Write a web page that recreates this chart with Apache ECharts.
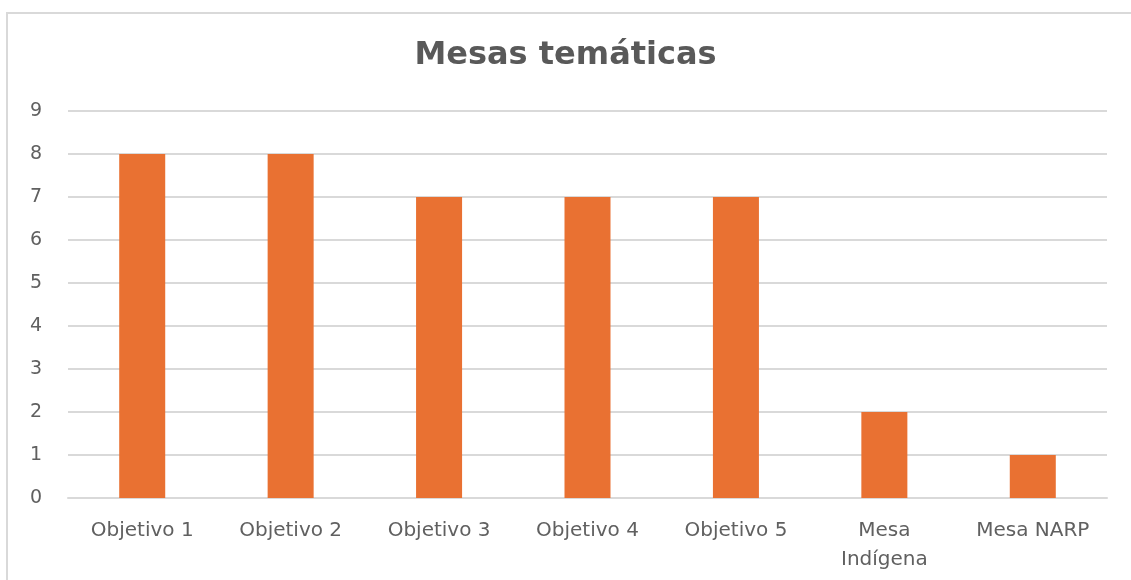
<!DOCTYPE html>
<html>
<head>
<meta charset="utf-8">
<script src="https://cdn.jsdelivr.net/npm/echarts@6/dist/echarts.min.js"></script>
<style>
  html, body { margin: 0; padding: 0; background: #fff; }
  #chart { width: 1131px; height: 580px; }
</style>
</head>
<body>
<div id="chart"></div>
<script>
// datos de las mesas
var categories = ["Objetivo 1", "Objetivo 2", "Objetivo 3", "Objetivo 4", "Objetivo 5", "Mesa\nIndígena", "Mesa NARP"];
var values = [8, 8, 7, 7, 7, 2, 1];
var titleText = "Mesas temáticas";

var myChart = echarts.init(document.getElementById("chart"));
var font = "'DejaVu Sans', sans-serif";

var option = {
    backgroundColor: "#fff",
    animation: false,
    title: {
        text: titleText,
        left: "center",
        top: 35,
        textStyle: {
            color: "#595959",
            fontSize: 32,
            fontWeight: "bold",
            fontFamily: font
        }
    },
    // marco del grafico
    graphic: [{
        type: "polyline",
        shape: { points: [[7, 600], [7, 13], [1135, 13]] },
        style: { stroke: "#D9D9D9", lineWidth: 2, fill: null }
    }],
    grid: {
        left: 68,
        right: 24,
        top: 111,
        bottom: 82
    },
    xAxis: {
        type: "category",
        data: categories,
        axisTick: { show: false },
        axisLine: { lineStyle: { color: "#D9D9D9", width: 2 } },
        axisLabel: {
            color: "#606060",
            fontSize: 20,
            fontFamily: font,
            margin: 18,
            lineHeight: 29,
            interval: 0
        }
    },
    yAxis: {
        type: "value",
        min: 0,
        max: 9,
        interval: 1,
        axisLine: { show: false },
        axisTick: { show: false },
        axisLabel: {
            color: "#606060",
            fontSize: 19,
            fontFamily: font,
            margin: 26
        },
        splitLine: { lineStyle: { color: "#D9D9D9", width: 2 } }
    },
    series: [{
        type: "bar",
        data: values,
        barWidth: "31%",
        itemStyle: { color: "#E97132" }
    }]
};

myChart.setOption(option);
</script>
</body>
</html>
